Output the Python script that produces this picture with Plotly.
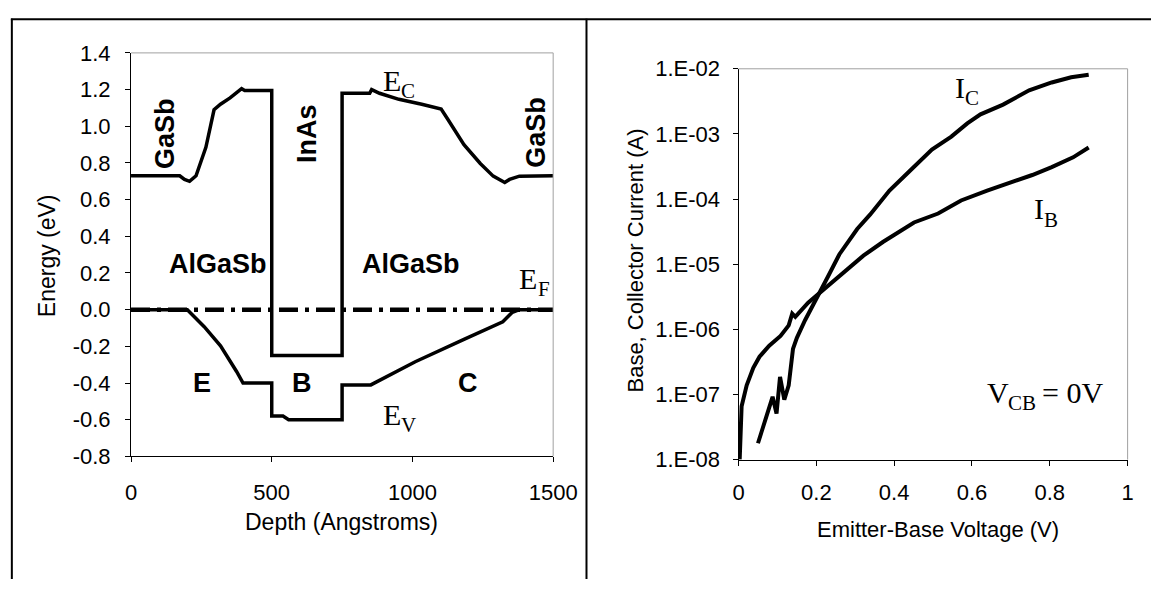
import plotly.graph_objects as go

# ---------------- data: left panel (band diagram) ----------------
ec_depth = [0, 173, 190, 208, 231, 248, 266, 283, 295, 318, 352, 393, 404, 500, 500,
            750, 750, 848, 855, 883, 952, 1033, 1102, 1125, 1183, 1241, 1287, 1328,
            1345, 1380, 1500]
ec_energy = [0.73, 0.73, 0.71, 0.70, 0.73, 0.80, 0.885, 1.005, 1.09, 1.12, 1.155, 1.205,
             1.195, 1.195, -0.25, -0.25, 1.18, 1.18, 1.20, 1.18, 1.147, 1.12, 1.094,
             1.04, 0.90, 0.797, 0.728, 0.693, 0.71, 0.728, 0.73]

ev_depth = [0, 200, 260, 318, 375, 398, 500, 500, 540, 560, 750, 750, 852, 1010, 1183,
            1321, 1355, 1380, 1500]
ev_energy = [0, 0, -0.093, -0.197, -0.337, -0.40, -0.40, -0.58, -0.58, -0.60, -0.60,
             -0.41, -0.41, -0.284, -0.162, -0.066, -0.014, 0, 0]

ef_depth = [0, 1500]
ef_energy = [0, 0]

left_xticks = [0, 500, 1000, 1500]
left_xticklabels = ["0", "500", "1000", "1500"]
left_yticks = [1.4, 1.2, 1.0, 0.8, 0.6, 0.4, 0.2, 0.0, -0.2, -0.4, -0.6, -0.8]
left_yticklabels = ["1.4", "1.2", "1.0", "0.8", "0.6", "0.4", "0.2", "0.0",
                    "-0.2", "-0.4", "-0.6", "-0.8"]

# ---------------- data: right panel (Gummel plot) ----------------
ib_voltage = [0.003, 0.008, 0.021, 0.038, 0.054, 0.079, 0.108, 0.129, 0.138, 0.146,
              0.179, 0.209, 0.221, 0.254, 0.288, 0.321, 0.371, 0.451, 0.513, 0.572,
              0.639, 0.689, 0.755, 0.805, 0.860, 0.900]
ib_current = [1.0e-8, 6.6e-8, 1.38e-7, 2.57e-7, 3.8e-7, 5.6e-7, 7.9e-7, 1.15e-6,
              1.74e-6, 1.55e-6, 2.57e-6, 3.63e-6, 4.27e-6, 6.3e-6, 9.3e-6, 1.35e-5,
              2.19e-5, 4.37e-5, 6.0e-5, 9.5e-5, 1.35e-4, 1.70e-4, 2.34e-4, 3.1e-4,
              4.37e-4, 6.2e-4]

ic_voltage = [0.050, 0.0876, 0.0977, 0.1067, 0.1177, 0.129, 0.140, 0.150, 0.171, 0.209,
              0.229, 0.259, 0.305, 0.338, 0.388, 0.438, 0.497, 0.547, 0.588, 0.622,
              0.680, 0.747, 0.805, 0.855, 0.900]
ic_current = [1.78e-8, 9.2e-8, 5.1e-8, 1.86e-7, 8.3e-8, 1.38e-7, 5.0e-7, 7.4e-7, 1.38e-6,
              3.63e-6, 6.3e-6, 1.41e-5, 3.47e-5, 5.75e-5, 1.35e-4, 2.63e-4, 5.75e-4,
              9.1e-4, 1.45e-3, 2.0e-3, 2.82e-3, 4.68e-3, 6.17e-3, 7.4e-3, 8.1e-3]

right_xticks = [0, 0.2, 0.4, 0.6, 0.8, 1.0]
right_xticklabels = ["0", "0.2", "0.4", "0.6", "0.8", "1"]
right_yticks = [1e-8, 1e-7, 1e-6, 1e-5, 1e-4, 1e-3, 1e-2]
right_yticklabels = ["1.E-08", "1.E-07", "1.E-06", "1.E-05", "1.E-04", "1.E-03", "1.E-02"]

# ---------------- figure ----------------
W, H = 1175, 592
SANS = "Liberation Sans, Arial, sans-serif"
SERIF = "Liberation Serif, Times New Roman, serif"
LW = 3.5


def fx(p):
    return p / W


def fy(p):
    return 1 - p / H


fig = go.Figure()
fig.add_trace(go.Scatter(x=ec_depth, y=ec_energy, mode="lines",
                         line=dict(color="black", width=LW), xaxis="x", yaxis="y"))
fig.add_trace(go.Scatter(x=ev_depth, y=ev_energy, mode="lines",
                         line=dict(color="black", width=LW), xaxis="x", yaxis="y"))
fig.add_trace(go.Scatter(x=ef_depth, y=ef_energy, mode="lines",
                         line=dict(color="black", width=4.5, dash="19px,7px,4px,7px"),
                         xaxis="x", yaxis="y"))
fig.add_trace(go.Scatter(x=ib_voltage, y=ib_current, mode="lines",
                         line=dict(color="black", width=4), xaxis="x2", yaxis="y2"))
fig.add_trace(go.Scatter(x=ic_voltage, y=ic_current, mode="lines",
                         line=dict(color="black", width=4), xaxis="x2", yaxis="y2"))

axis_common = dict(showgrid=False, zeroline=False, showline=True, linecolor="black",
                   linewidth=1, ticks="outside", ticklen=5, tickwidth=1, tickcolor="black",
                   tickfont=dict(family=SANS, size=22, color="black"), fixedrange=True)

fig.update_layout(
    width=W, height=H, autosize=False,
    margin=dict(l=0, r=0, t=0, b=0),
    paper_bgcolor="white", plot_bgcolor="white",
    showlegend=False,
    xaxis=dict(domain=[fx(128.3), fx(561.5)], anchor="y", range=[0, 1500],
               tickmode="array", tickvals=left_xticks, ticktext=left_xticklabels,
               ticklabelstandoff=11, **axis_common),
    yaxis=dict(domain=[fy(464), fy(42.7)], anchor="x", range=[-0.8, 1.4],
               tickmode="array", tickvals=left_yticks, ticktext=left_yticklabels,
               ticklabelstandoff=10, **axis_common),
    xaxis2=dict(domain=[fx(751.7), fx(1151)], anchor="y2", range=[0, 1],
                tickmode="array", tickvals=right_xticks, ticktext=right_xticklabels,
                ticklabelstandoff=8, **axis_common),
    yaxis2=dict(domain=[fy(467.3), fy(59.3)], anchor="x2", type="log", range=[-8, -2],
                tickmode="array", tickvals=right_yticks, ticktext=right_yticklabels,
                ticklabelstandoff=8, **axis_common),
)

shapes = []
# gray top/right frame of both plot areas
for xr, yr in (("x domain", "y domain"), ("x2 domain", "y2 domain")):
    shapes.append(dict(type="line", xref=xr, yref=yr, x0=0, x1=1, y0=1, y1=1,
                       line=dict(color="#a0a0a0", width=1)))
    shapes.append(dict(type="line", xref=xr, yref=yr, x0=1, x1=1, y0=0, y1=1,
                       line=dict(color="#a0a0a0", width=1)))
# outer black borders
shapes.append(dict(type="line", xref="paper", yref="paper", x0=fx(5), x1=1, y0=fy(7.5), y1=fy(7.5),
                   line=dict(color="black", width=2)))
shapes.append(dict(type="line", xref="paper", yref="paper", x0=fx(6), x1=fx(6), y0=fy(7), y1=0,
                   line=dict(color="black", width=2)))
shapes.append(dict(type="line", xref="paper", yref="paper", x0=fx(595.7), x1=fx(595.7), y0=fy(7), y1=0,
                   line=dict(color="black", width=2)))
fig.update_layout(shapes=shapes)

ann = []


def title(text, x, y, angle=0, size=22):
    ann.append(dict(text=text, xref="paper", yref="paper", x=fx(x), y=fy(y),
                    xanchor="center", yanchor="middle", showarrow=False, textangle=angle,
                    font=dict(family=SANS, size=size, color="black")))


title("Depth (Angstroms)", 344, 533, size=23)
title("Energy (eV)", 42, 254, angle=-90, size=23)
title("Emitter-Base Voltage (V)", 956, 540, size=22)
title("Base, Collector Current (A)", 646, 260, angle=-90, size=22)


def bold(text, x, y, angle=0):
    ann.append(dict(text=text, xref="x", yref="y", x=x, y=y,
                    xanchor="center", yanchor="middle", showarrow=False, textangle=angle,
                    font=dict(family=SANS, size=27, color="black", weight="bold")))


bold("GaSb", 119, 0.96, -90)
bold("InAs", 623, 0.96, -90)
bold("GaSb", 1439, 0.97, -90)
bold("AlGaSb", 309, 0.25)
bold("AlGaSb", 996, 0.25)
bold("E", 252, -0.40)
bold("B", 608, -0.40)
bold("C", 1197, -0.40)

MAIN = 30
SUB = 21
SUB_DY = -11


def serif_part(text, x, y, xr, yr, size, xshift=0, yshift=0):
    ann.append(dict(text=text, xref=xr, yref=yr, x=x, y=y, xanchor="left",
                    yanchor="middle", showarrow=False, xshift=xshift, yshift=yshift,
                    font=dict(family=SERIF, size=size, color="black")))


def label(main, sub, x, y, xr="x", yr="y", main_w=18.3, tail=None, sub_w=0):
    serif_part(main, x, y, xr, yr, MAIN)
    serif_part(sub, x, y, xr, yr, SUB, xshift=main_w, yshift=SUB_DY)
    if tail:
        serif_part(tail, x, y, xr, yr, MAIN, xshift=main_w + sub_w + 6)


label("E", "C", 888, 1.25)
label("E", "F", 1373, 0.17)
label("E", "V", 888, -0.57)
label("I", "C", 0.552, -2.28, "x2", "y2", main_w=10)
label("I", "B", 0.755, -4.15, "x2", "y2", main_w=10)
label("V", "CB", 0.634, -6.97, "x2", "y2", main_w=21, tail="= 0V", sub_w=28)

fig.update_layout(annotations=ann)

fig.write_html(
    "out.html",
    config={"responsive": False, "displayModeBar": False},
    post_script="document.body.style.margin='0';document.body.style.overflow='hidden';",
)
